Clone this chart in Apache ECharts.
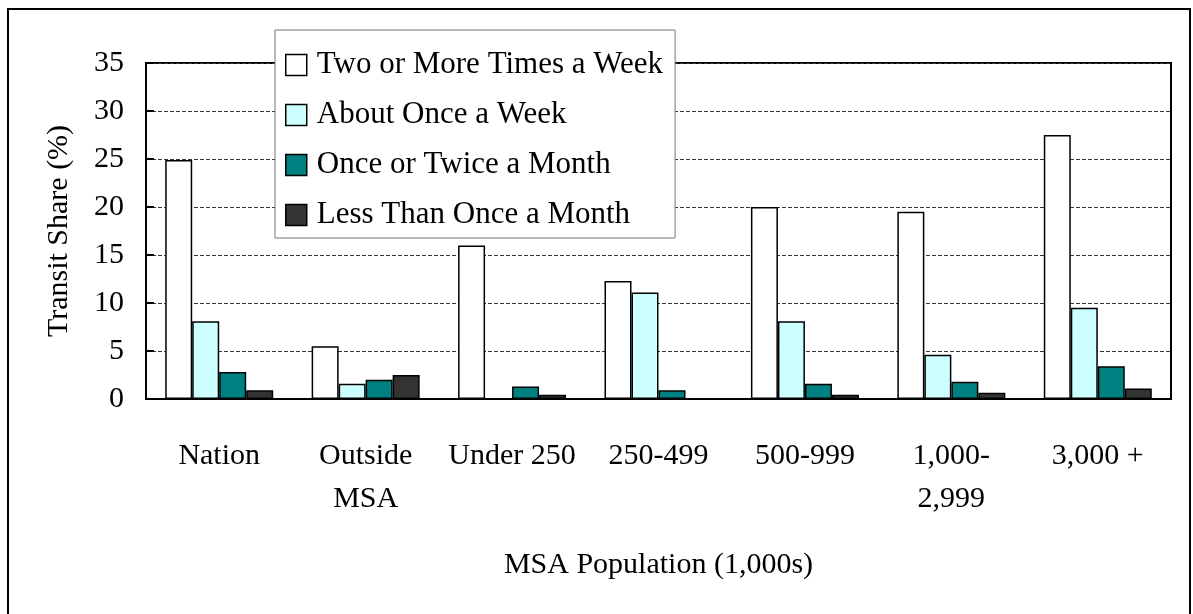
<!DOCTYPE html>
<html>
<head>
<meta charset="utf-8">
<script src="https://cdn.jsdelivr.net/npm/echarts@6/dist/echarts.min.js"></script>
<style>
  html, body { margin: 0; padding: 0; background: #fff; }
  #chart { width: 1193px; height: 614px; }
</style>
</head>
<body>
<div id="chart"></div>
<script>
// categories (MSA population, 1,000s)
var categories = ['Nation', 'Outside\nMSA', 'Under 250', '250-499', '500-999', '1,000-\n2,999', '3,000 +'];
// transit share (%) by frequency
var twoOrMore   = [24.9, 5.5, 16.0, 12.3, 20.0, 19.5, 27.5];
var onceWeek    = [8.1, 1.6, 0, 11.1, 8.1, 4.6, 9.5];
var onceTwice   = [2.8, 2.0, 1.3, 0.9, 1.6, 1.8, 3.4];
var lessThan    = [0.9, 2.5, 0.45, 0, 0.45, 0.65, 1.1];
var seriesNames = ['Two or More Times a Week', 'About Once a Week', 'Once or Twice a Month', 'Less Than Once a Month'];
var seriesColors = ['#ffffff', '#ccffff', '#008080', '#333333'];

var font = "'Liberation Serif', 'Times New Roman', serif";

var chart = echarts.init(document.getElementById('chart'));

function bar(i, data) {
    return {
        name: seriesNames[i],
        type: 'bar',
        data: data,
        barWidth: 27,
        barGap: '0%',
        itemStyle: { color: seriesColors[i], borderColor: '#000', borderWidth: 1.5 },
        emphasis: { disabled: true }
    };
}

var option = {
    animation: false,
    textStyle: { fontFamily: font },
    graphic: [{
        type: 'rect',
        shape: { x: 8, y: 9, width: 1182, height: 620 },
        style: { fill: 'none', stroke: '#000', lineWidth: 2 },
        silent: true
    }],
    legend: {
        orient: 'vertical',
        left: 275,
        top: 30,
        backgroundColor: '#fff',
        borderColor: '#777',
        borderWidth: 1,
        padding: [19, 12, 7, 10],
        itemGap: 18,
        itemWidth: 21,
        itemHeight: 21,
        icon: 'rect',
        itemStyle: { borderColor: '#000', borderWidth: 1.5 },
        textStyle: { fontFamily: font, fontSize: 31, color: '#000', lineHeight: 32, padding: [0, 0, 0, 5] },
        data: seriesNames,
        selectedMode: false
    },
    grid: {
        left: 146, right: 22, top: 63, bottom: 215,
        show: true, borderColor: '#000', borderWidth: 2, backgroundColor: 'transparent'
    },
    xAxis: {
        type: 'category',
        data: categories,
        name: 'MSA Population (1,000s)',
        nameLocation: 'middle',
        nameGap: 151,
        nameTextStyle: { fontFamily: font, fontSize: 30, color: '#000' },
        axisLine: { lineStyle: { color: '#000', width: 2 } },
        axisTick: { inside: true, length: 8, lineStyle: { color: '#000', width: 2 } },
        axisLabel: { fontFamily: font, fontSize: 30, color: '#000', margin: 36, lineHeight: 43, interval: 0 }
    },
    yAxis: {
        type: 'value',
        min: 0, max: 35, interval: 5,
        name: 'Transit Share (%)',
        nameLocation: 'middle',
        nameRotate: 90,
        nameGap: 72,
        nameTextStyle: { fontFamily: font, fontSize: 30, color: '#000' },
        axisLine: { show: true, lineStyle: { color: '#000', width: 2 } },
        axisTick: { show: true, inside: true, length: 8, lineStyle: { color: '#000', width: 2 } },
        axisLabel: { fontFamily: font, fontSize: 30, color: '#000', margin: 22 },
        splitLine: { lineStyle: { color: '#333', width: 1, type: [4, 2] } }
    },
    series: [
        bar(0, twoOrMore),
        bar(1, onceWeek),
        bar(2, onceTwice),
        bar(3, lessThan)
    ]
};

chart.setOption(option);
</script>
</body>
</html>
